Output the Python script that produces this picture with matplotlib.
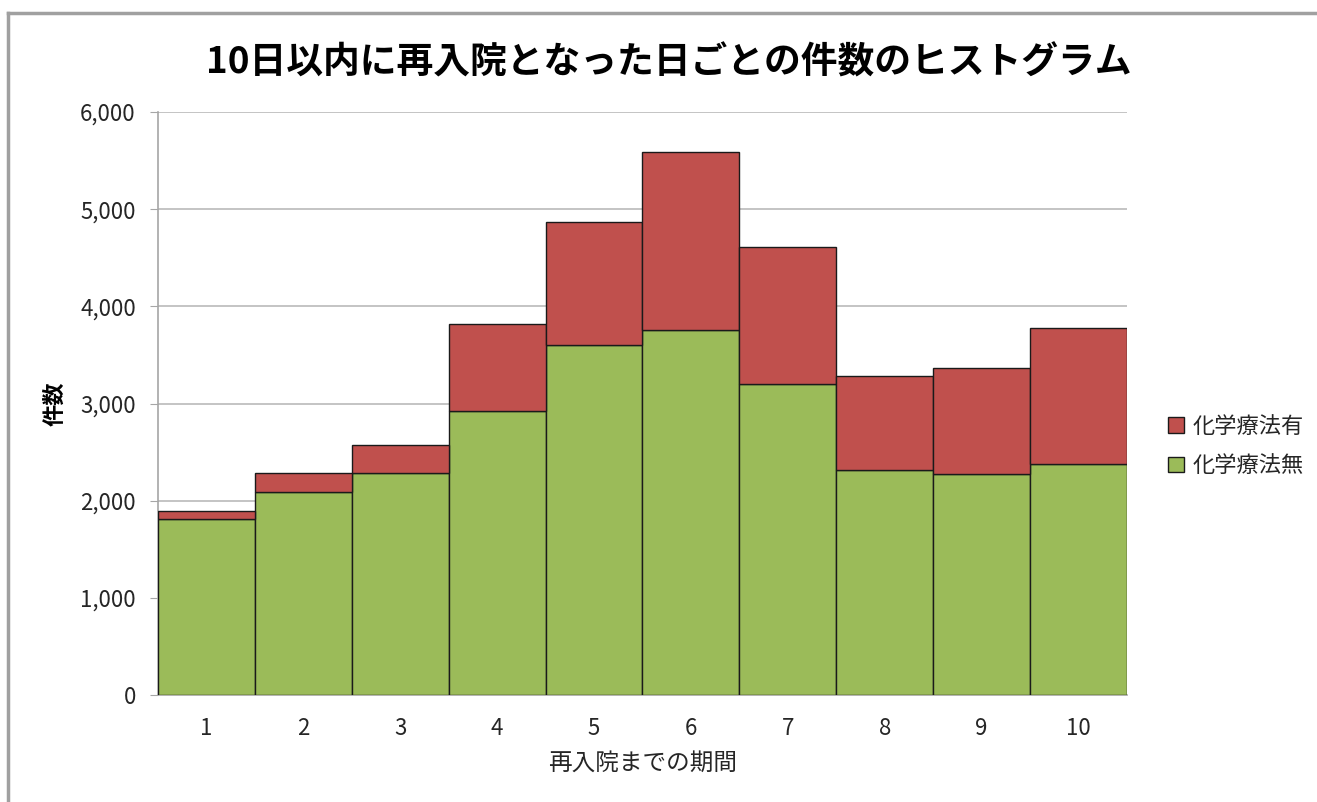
import numpy as np
import matplotlib.pyplot as plt
from matplotlib.lines import Line2D
from matplotlib.ticker import FuncFormatter

plt.rcParams['font.family'] = ['Noto Sans CJK JP', 'DejaVu Sans']

days = [1, 2, 3, 4, 5, 6, 7, 8, 9, 10]
# 化学療法無 (bottom) and 化学療法有 (stacked on top)
without_chemo = [1807, 2092, 2281, 2922, 3598, 3755, 3200, 2311, 2270, 2380]
totals = [1893, 2287, 2575, 3817, 4873, 5586, 4612, 3282, 3364, 3776]
with_chemo = [t - w for t, w in zip(totals, without_chemo)]

green = '#9BBB59'
red = '#C0504D'

fig = plt.figure(figsize=(13.17, 8.02), dpi=100)
ax = fig.add_axes([0.12, 0.1334, 0.7357, 0.7269])

ax.bar(days, without_chemo, width=1.0, color=green, edgecolor='#1a1a1a',
       linewidth=1.0, label='化学療法無', zorder=3)
ax.bar(days, with_chemo, width=1.0, bottom=without_chemo, color=red,
       edgecolor='#1a1a1a', linewidth=1.0, label='化学療法有', zorder=3)

ax.set_xlim(0.5, 10.5)
ax.set_ylim(0, 6000)
ax.set_yticks(np.arange(0, 6001, 1000))
ax.yaxis.set_major_formatter(FuncFormatter(lambda v, p: f'{int(v):,}'))
ax.set_xticks(days)
ax.grid(axis='y', color='#bfbfbf', linewidth=1.3, zorder=0)

for s in ['top', 'right']:
    ax.spines[s].set_visible(False)
for s in ['left', 'bottom']:
    ax.spines[s].set_color('#a6a6a6')
    ax.spines[s].set_linewidth(1.2)
ax.tick_params(axis='y', length=6, color='#a6a6a6', labelsize=16,
               labelcolor='#262626', pad=10)
ax.tick_params(axis='x', length=0, labelsize=16, labelcolor='#262626', pad=16)

ax.set_xlabel('再入院までの期間', fontsize=17, color='#262626', labelpad=8)
ax.set_ylabel('件数', fontsize=16, fontweight='bold', color='#000000', labelpad=10)

fig.text(0.508, 0.922, '10日以内に再入院となった日ごとの件数のヒストグラム',
         fontsize=26.5, fontweight='bold', ha='center', va='center')

h, l = ax.get_legend_handles_labels()
leg = fig.legend(h[::-1], l[::-1], loc='center left', bbox_to_anchor=(0.872, 0.444),
                 frameon=False, fontsize=16, handlelength=0.7, handleheight=0.7,
                 handletextpad=0.4, labelspacing=0.75, labelcolor='#262626')

# outer chart frame (top and left edges only visible)
fig.add_artist(Line2D([0.006, 1.0], [0.984, 0.984], transform=fig.transFigure,
                      color='#a0a0a0', linewidth=2.5))
fig.add_artist(Line2D([0.006, 0.006], [0.0, 0.984], transform=fig.transFigure,
                      color='#a0a0a0', linewidth=2.5))

fig.savefig('out.png', dpi=100)
